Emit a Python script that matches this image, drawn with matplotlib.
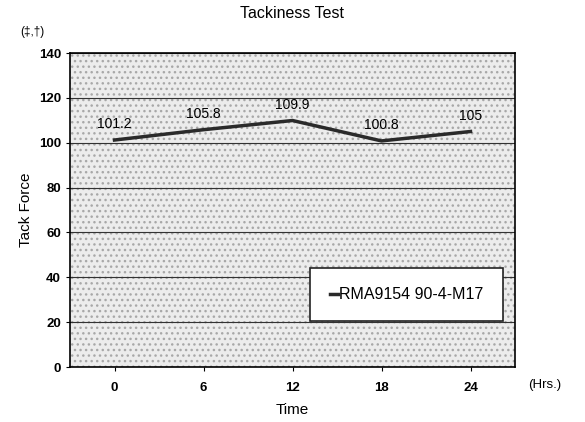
import matplotlib.pyplot as plt
import numpy as np

times = ["0", "6", "12", "18", "24"]
tack_force = [101.2, 105.8, 109.9, 100.8, 105]
series_name = "RMA9154 90-4-M17"

plt.rcParams["font.family"] = ["Liberation Sans", "DejaVu Sans"]

fig = plt.figure(figsize=(5.85, 4.22), dpi=100)
ax = fig.add_axes([70 / 585, 1 - 367 / 422, 445 / 585, 314 / 422])

ax.set_facecolor("#ececec")
ax.add_patch(plt.Rectangle((0, 0), 1, 1, transform=ax.transAxes, facecolor="none",
                           edgecolor="#a8a8a8", hatch="...", linewidth=0, zorder=0))

x = np.arange(len(times))
line, = ax.plot(x, tack_force, color="#2a2a2a", linewidth=2.5, zorder=3)
for xi, v in zip(x, tack_force):
    ax.text(xi, v + 4, f"{v:g}", ha="center", va="bottom", fontsize=10)

ax.set_xlim(-0.5, len(times) - 0.5)
ax.set_ylim(0, 140)
ax.set_yticks(range(0, 141, 20))
ax.set_xticks(x)
ax.set_xticklabels(times)
ax.tick_params(axis="both", labelsize=9.5, length=3)
for lbl in ax.get_yticklabels() + ax.get_xticklabels():
    lbl.set_fontweight("bold")
ax.tick_params(axis="x", pad=8)
ax.grid(axis="y", color="#333333", linewidth=0.8)
ax.set_axisbelow(True)
for s in ax.spines.values():
    s.set_linewidth(1.2)

ax.set_title("Tackiness Test", fontsize=11.5, pad=25)
ax.set_xlabel("Time", fontsize=11, labelpad=6)
ax.set_ylabel("Tack Force", fontsize=11)
fig.text(20 / 585, 1 - 32 / 422, "(‡,†)", fontsize=8.5, ha="left", va="center")
fig.text(528 / 585, 1 - 385 / 422, "(Hrs.)", fontsize=9.5, ha="left", va="center")

leg = ax.legend([line], [series_name], loc="lower right", bbox_to_anchor=(0.99, 0.12),
                frameon=True, fancybox=False, edgecolor="#222222", fontsize=11.5,
                handlelength=0.5, handletextpad=0.1, borderpad=1.2)
leg.get_frame().set_facecolor("white")
leg.get_frame().set_alpha(1)
leg.get_frame().set_linewidth(1.2)

fig.savefig("out.png", dpi=100)
